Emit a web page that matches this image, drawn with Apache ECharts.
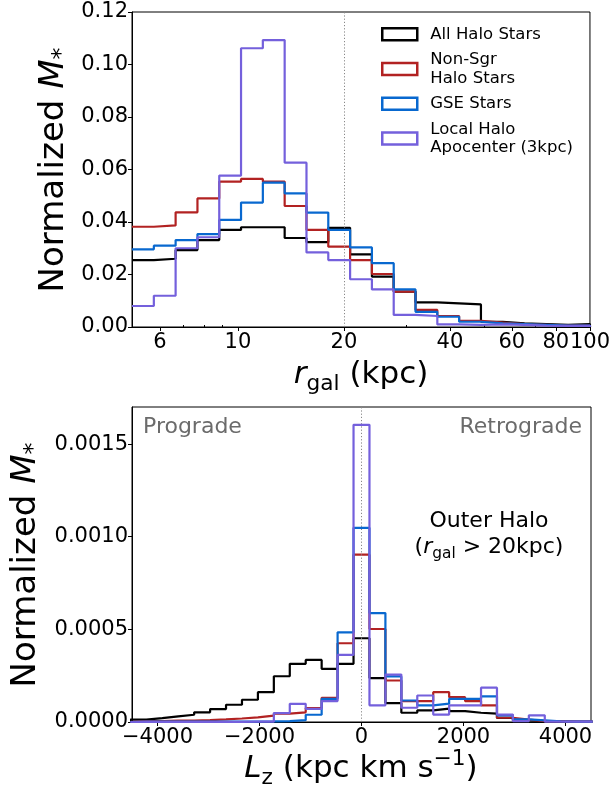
<!DOCTYPE html>
<html><head><meta charset="utf-8">
<script src="https://cdn.jsdelivr.net/npm/echarts@6/dist/echarts.min.js"></script>
<style>html,body{margin:0;padding:0;background:#fff}#c{width:613px;height:787px}</style>
</head><body><div id="c"></div>
<script>
// ---------- data: top panel (r_gal histogram, log bins) ----------
const rEdges = [5.000, 5.768, 6.651, 7.672, 8.848, 10.203, 11.768, 13.573, 15.655, 18.055, 20.825, 24.018, 27.700, 31.947, 36.845, 42.494, 49.010, 56.524, 65.190, 75.185, 86.713, 100.0];
const allHaloR = [0.0255,0.0260,0.0293,0.0331,0.0370,0.0380,0.0380,0.0339,0.0323,0.0378,0.0277,0.0192,0.0135,0.0094,0.0090,0.0086,0.0020,0.0014,0.0011,0.0008,0.0011];
const nonSgrR  = [0.0382,0.0387,0.0437,0.0490,0.0554,0.0564,0.0554,0.0461,0.0370,0.0306,0.0255,0.0202,0.0135,0.0065,0.0042,0.0023,0.0017,0.0011,0.0008,0.0005,0.0005];
const gseR     = [0.0296,0.0310,0.0331,0.0354,0.0408,0.0474,0.0550,0.0509,0.0436,0.0370,0.0303,0.0243,0.0143,0.0058,0.0039,0.0020,0.0014,0.0011,0.0008,0.0005,0.0005];
const localR   = [0.0080,0.0119,0.0300,0.0342,0.0577,0.1062,0.1093,0.0626,0.0284,0.0255,0.0182,0.0143,0.0046,0.0042,0.0010,0.0008,0.0010,0.0008,0.0005,0.0004,0.0004];
const rTickLabels = [6, 10, 20, 40, 60, 80, 100];
const rMajorTicks = [6, 10, 20, 40, 60, 80, 100];
const rMinorTicks = [7, 8, 9, 30, 50, 70, 90];

// ---------- data: bottom panel (Lz histogram, outer halo) ----------
const lzEdges = [-4531.25,-4218.75,-3906.25,-3593.75,-3281.25,-2968.75,-2656.25,-2343.75,-2031.25,-1718.75,-1406.25,-1093.75,-781.25,-468.75,-156.25,156.25,468.75,781.25,1093.75,1406.25,1718.75,2031.25,2343.75,2656.25,2968.75,3281.25,3593.75,3906.25,4218.75,4531.25];
const allHaloLz = [0.000013,0.000021,0.000030,0.000039,0.000052,0.000070,0.000093,0.000120,0.000161,0.000247,0.000314,0.000335,0.000287,0.000314,0.000452,0.000237,0.000102,0.000050,0.000063,0.000072,0.000059,0.000050,0.000045,0.000022,0.000009,0.000005,0.000004,0.000002,0.000002];
const nonSgrLz  = [0.000005,0.000005,0.000007,0.000008,0.000010,0.000014,0.000019,0.000025,0.000034,0.000045,0.000052,0.000075,0.000131,0.000425,0.000903,0.000502,0.000224,0.000113,0.000113,0.000161,0.000134,0.000113,0.000090,0.000023,0.000013,0.000005,0.000004,0.000002,0.000002];
const gseLz     = [0.000002,0.000002,0.000002,0.000002,0.000002,0.000002,0.000002,0.000002,0.000003,0.000005,0.000010,0.000039,0.000125,0.000484,0.001048,0.000588,0.000246,0.000116,0.000090,0.000099,0.000125,0.000125,0.000138,0.000036,0.000014,0.000009,0.000004,0.000002,0.000002];
const localLz   = [0.000001,0.000001,0.000001,0.000001,0.000001,0.000001,0.000001,0.000002,0.000002,0.000048,0.000098,0.000071,0.000113,0.000362,0.001604,0.000090,0.000256,0.000077,0.000143,0.000040,0.000090,0.000090,0.000185,0.000040,0.000005,0.000036,0.000002,0.000002,0.000002];
const lzTicks = [-4000, -2000, 0, 2000, 4000];
const yTicksBottom = [0, 0.0005, 0.0010, 0.0015];

const seriesNames = ['All Halo Stars', 'Non-Sgr\nHalo Stars', 'GSE Stars', 'Local Halo\nApocenter (3kpc)'];
const seriesColors = ['#000000', '#b22222', '#0868cf', '#7460dc'];

// ---------- helpers ----------
function stepData(edges, vals, startAtZero) {
  const d = startAtZero ? [[edges[0], 0]] : [];
  vals.forEach((v, i) => d.push([edges[i], v]));
  d.push([edges[vals.length], vals[vals.length - 1]]);
  d.push([edges[vals.length], 0]);
  return d;
}
const FONT = 'DejaVu Sans';
const mctx = document.createElement('canvas').getContext('2d');
function tw(t, s, it) { mctx.font = (it ? 'italic ' : '') + s + 'px "' + FONT + '"'; return mctx.measureText(t).width; }
// pieces: [text, scale, italic, shift(em, +down)]
function mathText(pieces, cx, cy, rot, size, color) {
  let total = 0;
  const ws = pieces.map(p => { const ww = tw(p[0], size * p[1], p[2]); total += ww; return ww; });
  let x = -total / 2;
  const children = [];
  pieces.forEach((p, i) => {
    const s = size * p[1];
    const base = 0.36 * size + p[3] * size;
    children.push({ type: 'text', x: x, y: base - 0.346 * s, silent: true,
      style: { text: p[0], fontSize: s, fontFamily: FONT, fontStyle: p[2] ? 'italic' : 'normal',
        fill: color || '#000', align: 'left', verticalAlign: 'middle' } });
    x += ws[i];
  });
  return { type: 'group', x: cx, y: cy, rotation: rot || 0, children };
}

const chart = echarts.init(document.getElementById('c'), null, { renderer: 'canvas' });
const labelFont = { fontFamily: FONT, fontSize: 21, color: '#000' };

const topVals = [allHaloR, nonSgrR, gseR, localR];
const botVals = [allHaloLz, nonSgrLz, gseLz, localLz];
const LW = 2.2;
const series = [];
topVals.forEach((v, i) => series.push({
  name: seriesNames[i], type: 'line', step: 'end', xAxisIndex: 0, yAxisIndex: 0,
  data: stepData(rEdges, v, false), symbol: 'none', showSymbol: false,
  lineStyle: { width: LW, color: seriesColors[i] }, itemStyle: { color: seriesColors[i] },
  z: 3 + i, animation: false, clip: true,
  markLine: i === 0 ? { silent: true, symbol: 'none', label: { show: false },
    lineStyle: { type: [1.2, 2], color: '#888', width: 1 }, data: [{ xAxis: 20 }], animation: false } : undefined
}));
botVals.forEach((v, i) => series.push({
  name: seriesNames[i], type: 'line', step: 'end', xAxisIndex: 2, yAxisIndex: 1,
  data: stepData(lzEdges, v, true), symbol: 'none', showSymbol: false,
  lineStyle: { width: LW, color: seriesColors[i] }, itemStyle: { color: seriesColors[i] },
  z: 3 + i, animation: false, clip: true,
  markLine: i === 0 ? { silent: true, symbol: 'none', label: { show: false },
    lineStyle: { type: [1.2, 2], color: '#888', width: 1 }, data: [{ xAxis: 0 }], animation: false } : undefined
}));

const gridTop = { left: 132, top: 12, width: 459, height: 315, show: true, borderColor: '#000', borderWidth: 1, backgroundColor: 'transparent' };
const gridBot = { left: 132, top: 407, width: 459, height: 315, show: true, borderColor: '#000', borderWidth: 1, backgroundColor: 'transparent' };

const option = {
  backgroundColor: '#fff',
  animation: false,
  grid: [gridTop, gridBot],
  legend: {
    left: 381, top: 25, padding: 0, orient: 'vertical', itemWidth: 35, itemHeight: 12, itemGap: 7,
    textStyle: { fontFamily: FONT, fontSize: 16.5, color: '#000', lineHeight: 18.5, padding: [0, 0, 0, 8] },
    icon: 'rect',
    data: seriesNames.map((n, i) => ({ name: n, icon: 'rect',
      itemStyle: { color: 'rgba(0,0,0,0)', borderColor: seriesColors[i], borderWidth: 2.5 } })),
    selectedMode: false
  },
  xAxis: [
    { gridIndex: 0, type: 'log', logBase: 10, min: 5, max: 100,
      axisLine: { show: true, onZero: false, lineStyle: { color: '#000', width: 1 } },
      axisTick: { show: true, length: 4, lineStyle: { color: '#000' }, customValues: rMajorTicks },
      axisLabel: Object.assign({ show: true, margin: 5, customValues: rTickLabels, showMaxLabel: true, showMinLabel: true,
        formatter: v => String(Math.round(v)) }, labelFont),
      splitLine: { show: false }, minorTick: { show: false } },
    { gridIndex: 0, type: 'log', logBase: 10, min: 5, max: 100,
      axisLine: { show: false },
      axisTick: { show: true, length: 2, lineStyle: { color: '#000' }, customValues: rMinorTicks },
      axisLabel: { show: false }, splitLine: { show: false } },
    { gridIndex: 1, type: 'value', min: -4500, max: 4500,
      axisLine: { show: true, onZero: false, lineStyle: { color: '#000', width: 1 } },
      axisTick: { show: true, length: 4, lineStyle: { color: '#000' }, customValues: lzTicks },
      axisLabel: Object.assign({ show: true, margin: 5, customValues: lzTicks,
        formatter: v => (v < 0 ? '\u2212' + Math.abs(v) : String(v)) }, labelFont),
      splitLine: { show: false } }
  ],
  yAxis: [
    { gridIndex: 0, type: 'value', min: 0, max: 0.12, interval: 0.02,
      axisLine: { show: true, onZero: false, lineStyle: { color: '#000', width: 1 } },
      axisTick: { show: true, length: 4, lineStyle: { color: '#000' } },
      axisLabel: Object.assign({ margin: 4, formatter: v => v.toFixed(2) }, labelFont),
      splitLine: { show: false } },
    { gridIndex: 1, type: 'value', min: 0, max: 0.0017,
      axisLine: { show: true, onZero: false, lineStyle: { color: '#000', width: 1 } },
      axisTick: { show: true, length: 4, lineStyle: { color: '#000' }, customValues: yTicksBottom },
      axisLabel: Object.assign({ margin: 4, customValues: yTicksBottom, formatter: v => v.toFixed(4) }, labelFont),
      splitLine: { show: false } }
  ],
  series: series,
  graphic: [
    mathText([['Normalized ', 1, false, 0], ['M', 1, true, 0], ['*', 0.7, false, 0.12]], 54, 170, Math.PI / 2, 34),
    mathText([['Normalized ', 1, false, 0], ['M', 1, true, 0], ['*', 0.7, false, 0.12]], 26, 565, Math.PI / 2, 34),
    mathText([['r', 1, true, 0], ['gal', 0.7, false, 0.18], [' (kpc)', 1, false, 0]], 361, 375, 0, 31),
    mathText([['L', 1, true, 0], ['z', 0.7, false, 0.18], [' (kpc km s', 1, false, 0], ['\u22121', 0.7, false, -0.42], [')', 1, false, 0]], 361, 769, 0, 31),
    { type: 'text', left: 143, top: 416, silent: true, style: { text: 'Prograde', fontFamily: FONT, fontSize: 22, fill: '#6b6b6b' } },
    { type: 'text', right: 31, top: 416, silent: true, style: { text: 'Retrograde', fontFamily: FONT, fontSize: 22, fill: '#6b6b6b' } },
    mathText([['Outer Halo', 1, false, 0]], 489, 521, 0, 22),
    mathText([['(', 1, false, 0], ['r', 1, true, 0], ['gal', 0.7, false, 0.18], [' > 20kpc)', 1, false, 0]], 489, 547, 0, 22)
  ]
};
chart.setOption(option);
</script></body></html>
